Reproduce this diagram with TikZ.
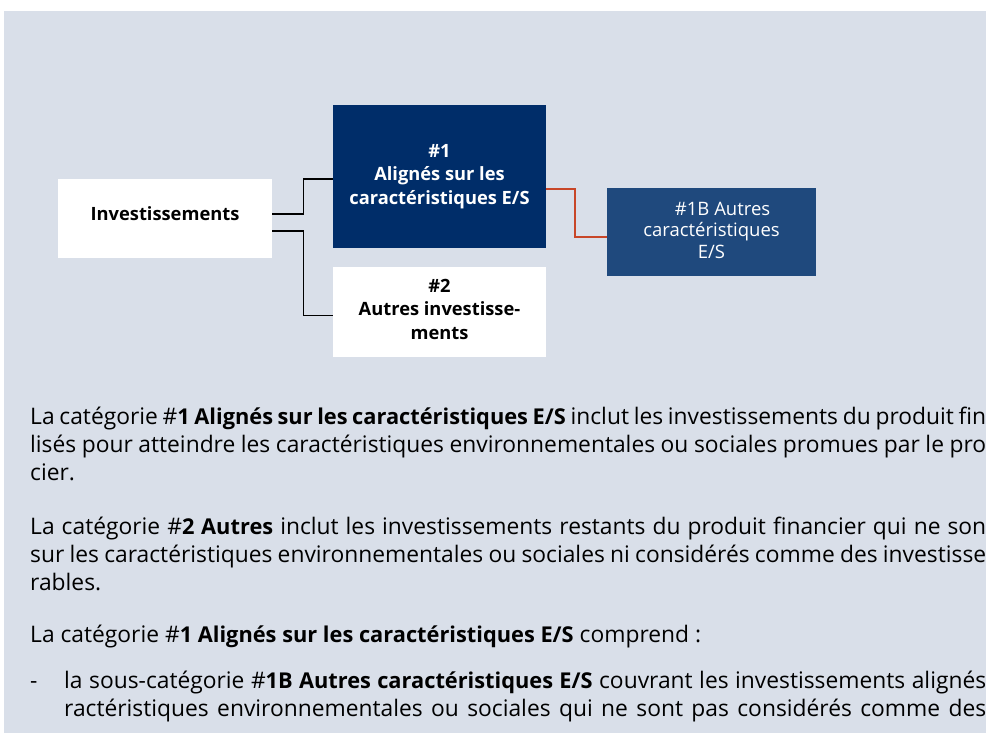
\documentclass[tikz,border=0pt]{standalone}
\usepackage{fontspec}
\setmainfont{Open Sans}
\usetikzlibrary{positioning}
\definecolor{panelbg}{RGB}{217,223,233}
\definecolor{navyblue}{RGB}{0,45,105}
\definecolor{midblue}{RGB}{31,73,125}
\definecolor{linkred}{RGB}{200,70,40}
\newcommand{\keyterm}[1]{{\fontsize{21.8}{28}\selectfont\bfseries #1}}
\newcommand{\fullline}[2]{\makebox[#1][s]{#2}}

\begin{document}
\begin{tikzpicture}[
  x=1pt, y=-1pt,
  box/.style={
    rectangle,
    align=center,
    inner sep=2pt,
    font=\fontsize{18.3}{23.5}\selectfont\bfseries
  },
  whitebox/.style={box, fill=white, text=black},
  navybox/.style={box, fill=navyblue, text=white},
  subbox/.style={box, fill=midblue, text=white, font=\fontsize{18.5}{21.5}\selectfont},
  link/.style={draw=black, line width=1.2pt},
  redlink/.style={draw=linkred, line width=1.5pt},
  bodytext/.style={anchor=base west, inner sep=0pt, font=\fontsize{22.8}{28}\selectfont}
]
\useasboundingbox (0,0) rectangle (986,733);
\fill[white] (0,0) rectangle (986,733);
\fill[panelbg] (4,11) rectangle (986,733);
\clip (0,0) rectangle (986,733);

% Tree of categories
\node[whitebox, minimum width=214pt, minimum height=79pt, text depth=9pt] (invest) at (165,218.5) {Investissements};

\node[navybox, minimum width=213pt, minimum height=143pt] (cat1) at (439.5,176.5) {\#1\\Alignés sur les\\caractéristiques E/S};

\node[whitebox, minimum width=213pt, minimum height=90pt, text depth=7pt, below=19pt of cat1] (cat2) {\#2\\Autres investisse-\\ments};

\node[subbox, minimum width=209pt, minimum height=88pt, text depth=4pt] (cat1b) at (711.5,232) {\hspace*{1.2em}\#1B Autres\\caractéristiques\\E/S};

% Connectors
\draw[link] ([yshift=4.5pt]invest.east) -- ++(31,0) |- ([yshift=-2.5pt]cat1.west);
\draw[link] ([yshift=-12.5pt]invest.east) -- ++(31,0) |- ([yshift=-3pt]cat2.west);
\draw[redlink] ([yshift=-12.5pt]cat1.east) -- ++(29,0) |- ([yshift=-5pt]cat1b.west);

% Explanatory text
\node[bodytext] (p1a) at (30,424) {\fullline{956pt}{La catégorie \#\keyterm{1 Alignés sur les caractéristiques E/S} inclut les investissements du produit fin}};
\node[bodytext] (p1b) at (30,452) {\fullline{956pt}{lisés pour atteindre les caractéristiques environnementales ou sociales promues par le pro}};
\node[bodytext] (p1c) at (30,480) {cier.};

\node[bodytext] (p2a) at (30,534) {\fullline{956pt}{La catégorie \#\keyterm{2 Autres} inclut les investissements restants du produit financier qui ne son}};
\node[bodytext] (p2b) at (30,562) {\fullline{956pt}{sur les caractéristiques environnementales ou sociales ni considérés comme des investisse}};
\node[bodytext] (p2c) at (30,590) {rables.};

\node[bodytext] (p3) at (30,642) {La catégorie \#\keyterm{1 Alignés sur les caractéristiques E/S} comprend :};

\node[bodytext] (dash) at (30,688) {-};
\node[bodytext] (p4a) at (64,688) {\fullline{922pt}{la sous-catégorie \#\keyterm{1B Autres caractéristiques E/S} couvrant les investissements alignés}};
\node[bodytext] (p4b) at (64,716) {\fullline{922pt}{ractéristiques environnementales ou sociales qui ne sont pas considérés comme des}};

\end{tikzpicture}
\end{document}
